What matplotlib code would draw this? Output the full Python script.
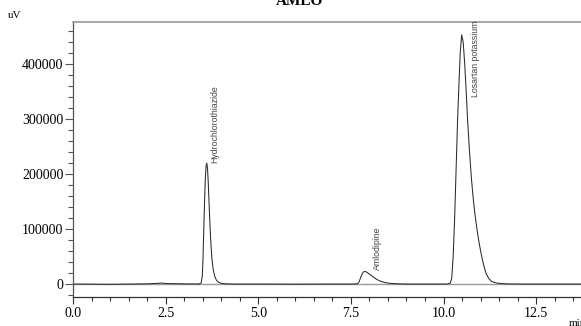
import matplotlib.pyplot as plt
from matplotlib.ticker import MultipleLocator, FormatStrFormatter

# chromatogram (time in min, signal in uV)
time = [0.0, 1.0, 2.0, 2.3, 2.4, 2.5, 3.0, 3.40,
        3.46, 3.49, 3.51, 3.53, 3.55, 3.57, 3.59, 3.61, 3.63, 3.65, 3.67, 3.69,
        3.71, 3.73, 3.75, 3.78, 3.82, 3.87, 3.93, 4.00, 4.10, 4.30,
        5.0, 6.0, 7.0, 7.60,
        7.68, 7.72, 7.76, 7.80, 7.84, 7.88, 7.93, 8.00, 8.08, 8.16, 8.25, 8.35,
        8.45, 8.60, 8.80, 9.00, 9.5, 10.10,
        10.18, 10.22, 10.26, 10.30, 10.34, 10.38, 10.42, 10.45, 10.49, 10.53,
        10.57, 10.61, 10.65, 10.70, 10.75, 10.80, 10.85, 10.90, 10.95, 11.00,
        11.05, 11.10, 11.15, 11.22, 11.30, 11.45, 11.70, 12.00, 13.0, 13.8]
signal = [0, -500, 300, 1200, 1800, 900, 300, 0,
          2000, 15000, 50000, 100000, 150000, 190000, 214000, 220000, 210000, 185000, 150000, 118000,
          88000, 64000, 46000, 28000, 15000, 7000, 3000, 1200, 400, 0,
          0, -300, 0, 0,
          500, 4000, 11000, 18000, 22000, 23000, 21500, 18000, 14000, 10000, 6500, 4000,
          2200, 1000, 300, 0, 0, 0,
          1500, 10000, 50000, 120000, 210000, 300000, 370000, 420000, 453000, 440000,
          402000, 352000, 298000, 242000, 194000, 156000, 126000, 101000, 79000, 60000,
          44000, 30000, 19000, 10000, 4500, 1500, 300, 0, 0, 0]

peak_names = ['Hydrochlorothiazide', 'Amlodipine', 'Losartan potassium']
label_t = [3.83, 8.21, 10.85]
label_v = [220000, 25000, 340000]

plt.rcParams['font.family'] = ['Liberation Serif', 'DejaVu Serif']

fig = plt.figure(figsize=(5.81, 3.26), dpi=100)
ax = fig.add_axes([73 / 581, 1 - 297 / 326, 1 - 73 / 581, (297 - 22) / 326])

ax.axhline(0, color='#9a9a9a', lw=1.0, zorder=1)
ax.plot(time, signal, color='#2a2a2a', lw=0.75, zorder=2)

for name, t, v in zip(peak_names, label_t, label_v):
    ax.text(t, v, name, rotation=90, ha='center', va='bottom', fontsize=6.3,
            color='#444444', family=['Liberation Sans Narrow', 'Liberation Sans'])

ax.set_xlim(0, 13.71)
ax.set_ylim(-23600, 476400)

ax.spines['right'].set_visible(False)
ax.spines['top'].set_color('#a0a0a0')
ax.spines['top'].set_linewidth(1.3)
ax.spines['left'].set_color('#555555')
ax.spines['bottom'].set_color('#333333')
ax.spines['left'].set_linewidth(0.9)
ax.spines['bottom'].set_linewidth(0.9)

ax.xaxis.set_major_locator(MultipleLocator(2.5))
ax.xaxis.set_minor_locator(MultipleLocator(0.5))
ax.xaxis.set_major_formatter(FormatStrFormatter('%.1f'))
ax.yaxis.set_major_locator(MultipleLocator(100000))
ax.yaxis.set_minor_locator(MultipleLocator(20000))

ax.tick_params(axis='x', which='major', length=5, width=0.8, color='#333333', pad=2, labelsize=10)
ax.tick_params(axis='x', which='minor', length=3, width=0.8, color='#333333')
ax.tick_params(axis='y', which='major', length=6, width=0.8, color='#555555', pad=1, labelsize=10)
ax.tick_params(axis='y', which='minor', length=3.5, width=0.8, color='#555555')

fig.text(300 / 581, 1 - 5 / 326, 'AMLO', ha='center', va='baseline',
         fontsize=11, fontweight='bold')
fig.text(8 / 581, 1 - 15 / 326, 'uV', ha='left', va='center', fontsize=8)
fig.text(569 / 581, 1 - 326 / 326, 'min', ha='left', va='baseline', fontsize=8)

fig.savefig('out.png', dpi=100)
